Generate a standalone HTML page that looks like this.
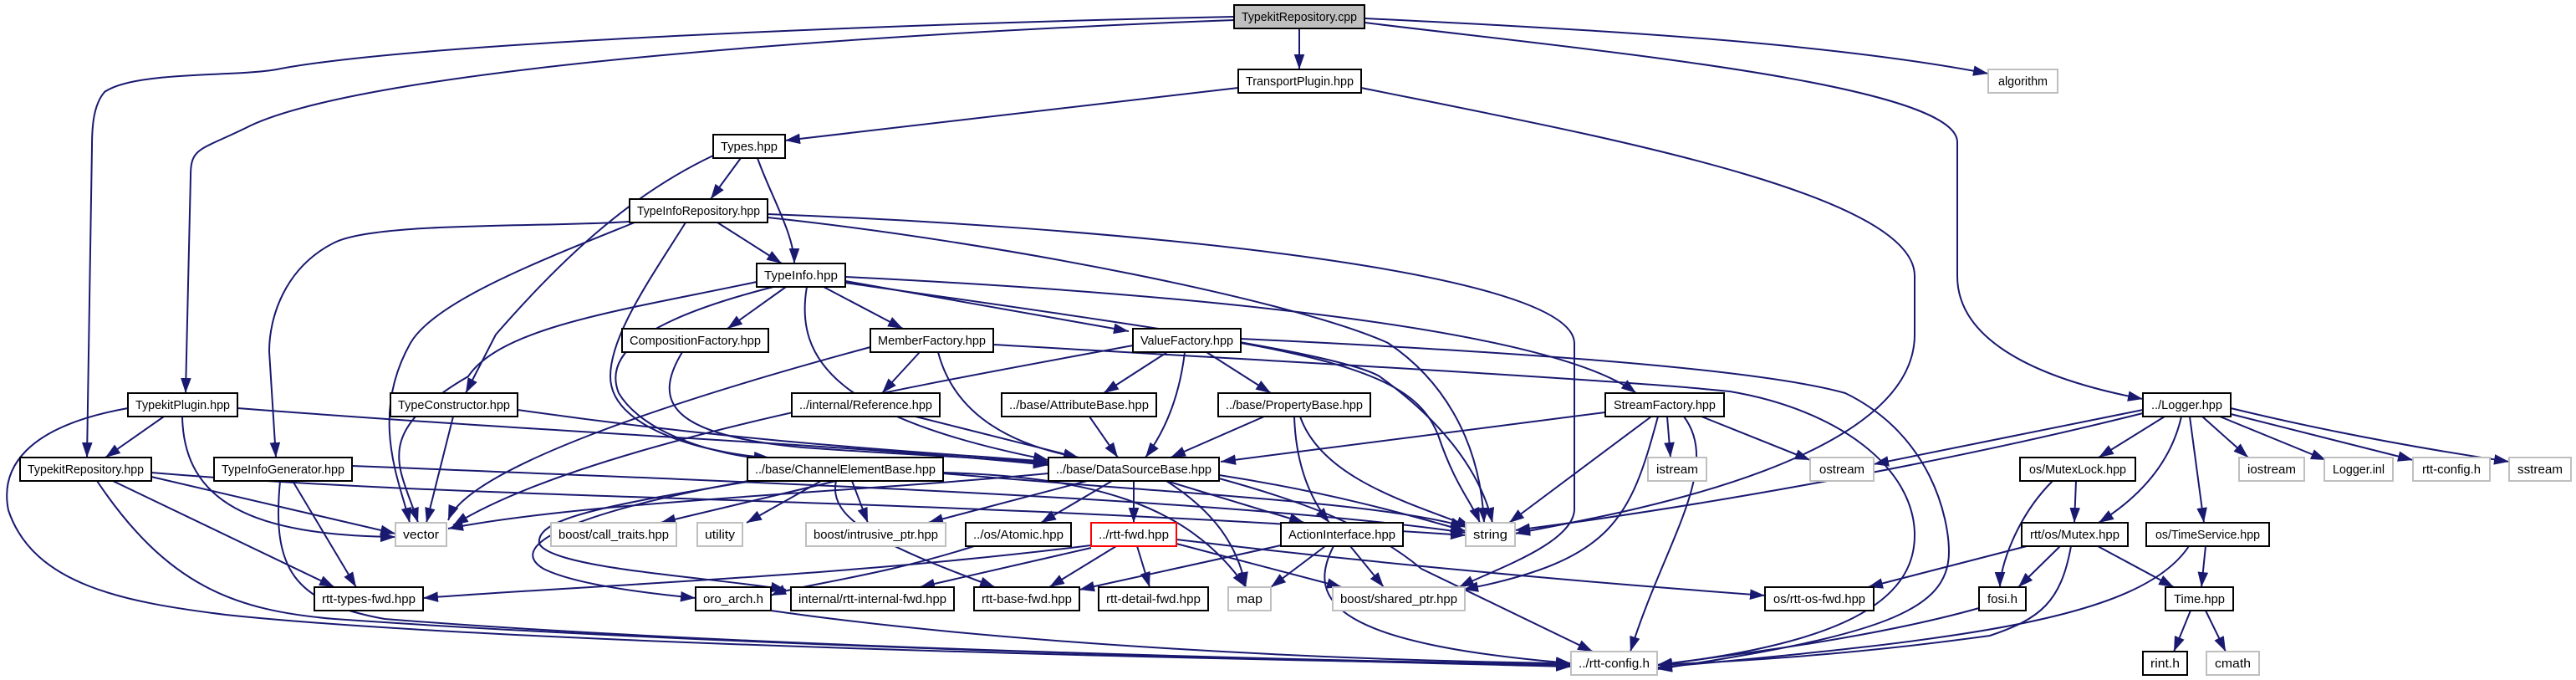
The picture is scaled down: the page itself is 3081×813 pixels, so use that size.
<!DOCTYPE html>
<html><head><meta charset="utf-8"><style>
html,body{margin:0;padding:0;background:#fff;}
svg{display:block;}
text{font-family:"Liberation Sans",sans-serif;font-size:15px;fill:#000;}
</style></head><body>
<svg width="3081" height="813" viewBox="0 0 3081 813" xmlns="http://www.w3.org/2000/svg">
<defs>
<marker id="a" viewBox="0 0 10 7" markerWidth="18" markerHeight="13" refX="10" refY="3.5" orient="auto" markerUnits="userSpaceOnUse"><path d="M0,0 L10,3.5 L0,7 z" fill="#191970"/></marker>
</defs>
<g fill="none" stroke="#191970" stroke-width="2" marker-end="url(#a)">
<path d="M1554,34 L1554,83"/>
<path d="M1632,22 C1900,35 2180,50 2378,88"/>
<path d="M1632,27 C1900,60 2341,100 2341,170 L2341,330 C2341,400 2420,450 2563,477"/>
<path d="M1476,20 C1100,28 500,50 331,83 C280,92 160,85 125,110 C112,125 110,150 110,175 L104,547"/>
<path d="M1476,24 C1050,40 450,80 300,150 C240,180 228,175 228,210 L222,470"/>
<path d="M1481,105 L939,168"/>
<path d="M1628,105 C1900,160 2290,230 2290,330 L2290,400 C2290,560 1900,620 1812,638"/>
<path d="M886,189 L850,238"/>
<path d="M906,189 C920,230 950,280 950,315"/>
<path d="M853,186 C760,230 680,300 593,400 L557,470"/>
<path d="M858,266 L935,315"/>
<path d="M753,265 C650,272 450,265 400,290 C340,320 322,380 322,420 L330,547"/>
<path d="M759,266 C650,310 520,360 491,410 C440,500 480,580 490,625"/>
<path d="M905,337 C750,370 600,390 560,450 C440,520 480,560 500,625"/>
<path d="M820,266 C780,330 730,400 730,450 C730,520 870,545 920,547"/>
<path d="M918,256 C1300,270 1880,320 1883,410 L1883,610 C1880,650 1790,680 1745,702"/>
<path d="M918,260 C1200,290 1550,360 1660,410 C1720,450 1770,520 1775,625"/>
<path d="M940,343 L870,393"/>
<path d="M985,343 L1080,393"/>
<path d="M1011,336 L1350,396"/>
<path d="M1011,331 C1400,350 1850,390 1957,470"/>
<path d="M1011,338 C1300,380 1600,420 1650,450 C1720,500 1770,560 1785,625"/>
<path d="M965,343 C950,430 1000,500 1254,550"/>
<path d="M925,343 C780,380 720,420 740,470 C770,520 860,545 920,549"/>
<path d="M816,421 C780,480 800,520 960,535 C1100,545 1200,548 1254,554"/>
<path d="M1100,421 L1055,470"/>
<path d="M1122,421 C1140,490 1200,530 1290,547"/>
<path d="M1041,415 C800,480 560,560 536,622"/>
<path d="M1188,412 C1500,430 1950,455 2069,468 C2200,490 2290,560 2290,640 C2290,720 2200,770 1982,795"/>
<path d="M1396,421 L1320,470"/>
<path d="M1417,421 C1410,480 1390,520 1370,547"/>
<path d="M1443,421 L1520,470"/>
<path d="M1355,413 C1100,460 700,530 542,628"/>
<path d="M1484,410 C1650,440 1700,470 1720,520 C1740,580 1760,600 1770,625"/>
<path d="M1484,405 C1800,420 2100,440 2207,470 C2310,520 2331,620 2331,660 C2331,730 2250,760 1982,800"/>
<path d="M196,498 L126,547"/>
<path d="M218,498 C220,600 300,640 473,642"/>
<path d="M284,488 C700,520 1000,530 1254,556"/>
<path d="M153,488 C30,510 0,560 10,610 C40,700 150,720 270,735 C600,770 1500,790 1879,795"/>
<path d="M542,498 L510,625"/>
<path d="M619,490 C900,530 1100,540 1254,552"/>
<path d="M1095,498 L1290,547"/>
<path d="M1303,498 L1337,547"/>
<path d="M1512,498 L1400,547"/>
<path d="M1548,498 C1550,560 1570,600 1590,625"/>
<path d="M1555,498 C1580,570 1680,600 1760,630"/>
<path d="M1920,493 L1460,552"/>
<path d="M1994,498 L1998,547"/>
<path d="M2035,498 L2165,550"/>
<path d="M1975,498 L1805,625"/>
<path d="M1983,498 C1950,620 1930,670 1750,705"/>
<path d="M2014,498 C2060,560 1990,650 1950,779"/>
<path d="M2563,490 L2241,555"/>
<path d="M2563,494 C2300,560 2000,610 1812,634"/>
<path d="M2589,498 L2510,547"/>
<path d="M2609,498 C2595,560 2550,600 2510,625"/>
<path d="M2619,498 L2636,625"/>
<path d="M2634,498 L2689,547"/>
<path d="M2655,498 L2782,550"/>
<path d="M2668,495 L2886,550"/>
<path d="M2668,488 C2800,520 2920,540 3001,552"/>
<path d="M181,570 L473,638"/>
<path d="M181,565 C600,600 1000,590 1753,640"/>
<path d="M135,575 L400,702"/>
<path d="M116,575 C200,700 280,730 400,740 C900,775 1600,790 1879,797"/>
<path d="M421,557 C1000,580 1500,600 1753,637"/>
<path d="M350,575 L426,702"/>
<path d="M335,575 C325,680 350,720 460,740 C900,775 1600,790 1879,795"/>
<path d="M1000,575 L790,625"/>
<path d="M982,575 L893,625"/>
<path d="M1019,575 L1038,625"/>
<path d="M895,575 C700,610 600,650 650,680 C690,700 780,710 832,715"/>
<path d="M900,575 C720,605 640,620 645,650 C660,680 850,690 940,705"/>
<path d="M1000,575 C990,620 1050,650 1190,702"/>
<path d="M1128,565 C1300,570 1420,600 1490,702"/>
<path d="M1128,566 C1400,590 1650,600 1753,630"/>
<path d="M1300,575 L1110,625"/>
<path d="M1330,575 L1245,625"/>
<path d="M1356,575 L1356,625"/>
<path d="M1395,575 L1560,625"/>
<path d="M1458,568 C1600,590 1700,620 1753,635"/>
<path d="M1395,575 C1450,610 1480,650 1490,702"/>
<path d="M1458,572 C1560,600 1640,630 1700,680 L1905,779"/>
<path d="M1254,566 C1000,590 700,600 536,632"/>
<path d="M1165,653 C1050,690 950,700 922,712"/>
<path d="M1305,652 C1000,690 700,700 506,715"/>
<path d="M1305,655 L1100,702"/>
<path d="M1335,653 L1255,702"/>
<path d="M1360,653 L1375,702"/>
<path d="M1407,650 L1605,702"/>
<path d="M1407,645 C1700,680 1950,700 2111,712"/>
<path d="M1532,652 L1291,705"/>
<path d="M1585,653 L1520,702"/>
<path d="M1615,653 L1655,702"/>
<path d="M1595,653 C1560,720 1600,770 1879,793"/>
<path d="M922,730 C1200,770 1600,790 1879,793"/>
<path d="M2483,575 L2481,625"/>
<path d="M2455,575 C2410,620 2392,680 2392,702"/>
<path d="M2424,653 L2234,702"/>
<path d="M2464,653 L2414,702"/>
<path d="M2509,653 L2600,702"/>
<path d="M2477,653 C2465,720 2440,740 2380,760 C2200,785 2050,792 1982,795"/>
<path d="M2638,653 L2633,702"/>
<path d="M2618,653 C2560,740 2350,765 1982,798"/>
<path d="M2620,730 L2600,779"/>
<path d="M2638,730 L2662,779"/>
<path d="M2367,727 C2250,760 2100,780 1982,795"/>
</g>
<g stroke-width="2">
<rect x="1476" y="6" width="156" height="28" fill="#bfbfbf" stroke="#000"/><text x="1554" y="25" text-anchor="middle" textLength="138" lengthAdjust="spacingAndGlyphs">TypekitRepository.cpp</text>
<rect x="1481" y="83" width="147" height="28" fill="#fff" stroke="#000"/><text x="1554.5" y="102" text-anchor="middle" textLength="129" lengthAdjust="spacingAndGlyphs">TransportPlugin.hpp</text>
<rect x="2378" y="83" width="83" height="28" fill="#fff" stroke="#bfbfbf"/><text x="2419.5" y="102" text-anchor="middle" textLength="59" lengthAdjust="spacingAndGlyphs">algorithm</text>
<rect x="853" y="161" width="86" height="28" fill="#fff" stroke="#000"/><text x="896" y="180" text-anchor="middle" textLength="68" lengthAdjust="spacingAndGlyphs">Types.hpp</text>
<rect x="753" y="238" width="165" height="28" fill="#fff" stroke="#000"/><text x="835.5" y="257" text-anchor="middle" textLength="147" lengthAdjust="spacingAndGlyphs">TypeInfoRepository.hpp</text>
<rect x="905" y="315" width="106" height="28" fill="#fff" stroke="#000"/><text x="958" y="334" text-anchor="middle" textLength="88" lengthAdjust="spacingAndGlyphs">TypeInfo.hpp</text>
<rect x="744" y="393" width="175" height="28" fill="#fff" stroke="#000"/><text x="831.5" y="412" text-anchor="middle" textLength="157" lengthAdjust="spacingAndGlyphs">CompositionFactory.hpp</text>
<rect x="1041" y="393" width="147" height="28" fill="#fff" stroke="#000"/><text x="1114.5" y="412" text-anchor="middle" textLength="129" lengthAdjust="spacingAndGlyphs">MemberFactory.hpp</text>
<rect x="1355" y="393" width="129" height="28" fill="#fff" stroke="#000"/><text x="1419.5" y="412" text-anchor="middle" textLength="111" lengthAdjust="spacingAndGlyphs">ValueFactory.hpp</text>
<rect x="153" y="470" width="131" height="28" fill="#fff" stroke="#000"/><text x="218.5" y="489" text-anchor="middle" textLength="113" lengthAdjust="spacingAndGlyphs">TypekitPlugin.hpp</text>
<rect x="467" y="470" width="152" height="28" fill="#fff" stroke="#000"/><text x="543" y="489" text-anchor="middle" textLength="134" lengthAdjust="spacingAndGlyphs">TypeConstructor.hpp</text>
<rect x="947" y="470" width="177" height="28" fill="#fff" stroke="#000"/><text x="1035.5" y="489" text-anchor="middle" textLength="159" lengthAdjust="spacingAndGlyphs">../internal/Reference.hpp</text>
<rect x="1198" y="470" width="185" height="28" fill="#fff" stroke="#000"/><text x="1290.5" y="489" text-anchor="middle" textLength="167" lengthAdjust="spacingAndGlyphs">../base/AttributeBase.hpp</text>
<rect x="1457" y="470" width="182" height="28" fill="#fff" stroke="#000"/><text x="1548" y="489" text-anchor="middle" textLength="164" lengthAdjust="spacingAndGlyphs">../base/PropertyBase.hpp</text>
<rect x="1920" y="470" width="142" height="28" fill="#fff" stroke="#000"/><text x="1991" y="489" text-anchor="middle" textLength="122" lengthAdjust="spacingAndGlyphs">StreamFactory.hpp</text>
<rect x="2563" y="470" width="105" height="28" fill="#fff" stroke="#000"/><text x="2615.5" y="489" text-anchor="middle" textLength="85" lengthAdjust="spacingAndGlyphs">../Logger.hpp</text>
<rect x="24" y="547" width="157" height="28" fill="#fff" stroke="#000"/><text x="102.5" y="566" text-anchor="middle" textLength="139" lengthAdjust="spacingAndGlyphs">TypekitRepository.hpp</text>
<rect x="256" y="547" width="165" height="28" fill="#fff" stroke="#000"/><text x="338.5" y="566" text-anchor="middle" textLength="147" lengthAdjust="spacingAndGlyphs">TypeInfoGenerator.hpp</text>
<rect x="894" y="547" width="234" height="28" fill="#fff" stroke="#000"/><text x="1011" y="566" text-anchor="middle" textLength="216" lengthAdjust="spacingAndGlyphs">../base/ChannelElementBase.hpp</text>
<rect x="1254" y="547" width="204" height="28" fill="#fff" stroke="#000"/><text x="1356" y="566" text-anchor="middle" textLength="186" lengthAdjust="spacingAndGlyphs">../base/DataSourceBase.hpp</text>
<rect x="1971" y="547" width="70" height="28" fill="#fff" stroke="#bfbfbf"/><text x="2006" y="566" text-anchor="middle" textLength="50" lengthAdjust="spacingAndGlyphs">istream</text>
<rect x="2165" y="547" width="76" height="28" fill="#fff" stroke="#bfbfbf"/><text x="2203" y="566" text-anchor="middle" textLength="54" lengthAdjust="spacingAndGlyphs">ostream</text>
<rect x="2416" y="547" width="138" height="28" fill="#fff" stroke="#000"/><text x="2485" y="566" text-anchor="middle" textLength="116" lengthAdjust="spacingAndGlyphs">os/MutexLock.hpp</text>
<rect x="2678" y="547" width="78" height="28" fill="#fff" stroke="#bfbfbf"/><text x="2717" y="566" text-anchor="middle" textLength="58" lengthAdjust="spacingAndGlyphs">iostream</text>
<rect x="2780" y="547" width="82" height="28" fill="#fff" stroke="#bfbfbf"/><text x="2821" y="566" text-anchor="middle" textLength="62" lengthAdjust="spacingAndGlyphs">Logger.inl</text>
<rect x="2886" y="547" width="92" height="28" fill="#fff" stroke="#bfbfbf"/><text x="2932" y="566" text-anchor="middle" textLength="70" lengthAdjust="spacingAndGlyphs">rtt-config.h</text>
<rect x="3001" y="547" width="74" height="28" fill="#fff" stroke="#bfbfbf"/><text x="3038" y="566" text-anchor="middle" textLength="54" lengthAdjust="spacingAndGlyphs">sstream</text>
<rect x="473" y="625" width="61" height="28" fill="#fff" stroke="#bfbfbf"/><text x="503.5" y="644" text-anchor="middle" textLength="43" lengthAdjust="spacingAndGlyphs">vector</text>
<rect x="659" y="625" width="150" height="28" fill="#fff" stroke="#bfbfbf"/><text x="734" y="644" text-anchor="middle" textLength="132" lengthAdjust="spacingAndGlyphs">boost/call_traits.hpp</text>
<rect x="834" y="625" width="54" height="28" fill="#fff" stroke="#bfbfbf"/><text x="861" y="644" text-anchor="middle" textLength="36" lengthAdjust="spacingAndGlyphs">utility</text>
<rect x="964" y="625" width="167" height="28" fill="#fff" stroke="#bfbfbf"/><text x="1047.5" y="644" text-anchor="middle" textLength="149" lengthAdjust="spacingAndGlyphs">boost/intrusive_ptr.hpp</text>
<rect x="1155" y="625" width="126" height="28" fill="#fff" stroke="#000"/><text x="1218" y="644" text-anchor="middle" textLength="108" lengthAdjust="spacingAndGlyphs">../os/Atomic.hpp</text>
<rect x="1305" y="625" width="102" height="28" fill="#fff" stroke="#ff0000"/><text x="1356" y="644" text-anchor="middle" textLength="84" lengthAdjust="spacingAndGlyphs">../rtt-fwd.hpp</text>
<rect x="1532" y="625" width="146" height="28" fill="#fff" stroke="#000"/><text x="1605" y="644" text-anchor="middle" textLength="128" lengthAdjust="spacingAndGlyphs">ActionInterface.hpp</text>
<rect x="1753" y="625" width="59" height="28" fill="#fff" stroke="#bfbfbf"/><text x="1782.5" y="644" text-anchor="middle" textLength="41" lengthAdjust="spacingAndGlyphs">string</text>
<rect x="2418" y="625" width="127" height="28" fill="#fff" stroke="#000"/><text x="2481.5" y="644" text-anchor="middle" textLength="107" lengthAdjust="spacingAndGlyphs">rtt/os/Mutex.hpp</text>
<rect x="2567" y="625" width="147" height="28" fill="#fff" stroke="#000"/><text x="2640.5" y="644" text-anchor="middle" textLength="125" lengthAdjust="spacingAndGlyphs">os/TimeService.hpp</text>
<rect x="376" y="702" width="130" height="28" fill="#fff" stroke="#000"/><text x="441" y="721" text-anchor="middle" textLength="112" lengthAdjust="spacingAndGlyphs">rtt-types-fwd.hpp</text>
<rect x="832" y="702" width="90" height="28" fill="#fff" stroke="#000"/><text x="877" y="721" text-anchor="middle" textLength="72" lengthAdjust="spacingAndGlyphs">oro_arch.h</text>
<rect x="946" y="702" width="195" height="28" fill="#fff" stroke="#000"/><text x="1043.5" y="721" text-anchor="middle" textLength="177" lengthAdjust="spacingAndGlyphs">internal/rtt-internal-fwd.hpp</text>
<rect x="1165" y="702" width="126" height="28" fill="#fff" stroke="#000"/><text x="1228" y="721" text-anchor="middle" textLength="108" lengthAdjust="spacingAndGlyphs">rtt-base-fwd.hpp</text>
<rect x="1314" y="702" width="131" height="28" fill="#fff" stroke="#000"/><text x="1379.5" y="721" text-anchor="middle" textLength="113" lengthAdjust="spacingAndGlyphs">rtt-detail-fwd.hpp</text>
<rect x="1469" y="702" width="51" height="28" fill="#fff" stroke="#bfbfbf"/><text x="1494.5" y="721" text-anchor="middle" textLength="31" lengthAdjust="spacingAndGlyphs">map</text>
<rect x="1594" y="702" width="158" height="28" fill="#fff" stroke="#bfbfbf"/><text x="1673" y="721" text-anchor="middle" textLength="140" lengthAdjust="spacingAndGlyphs">boost/shared_ptr.hpp</text>
<rect x="2111" y="702" width="130" height="28" fill="#fff" stroke="#000"/><text x="2176" y="721" text-anchor="middle" textLength="110" lengthAdjust="spacingAndGlyphs">os/rtt-os-fwd.hpp</text>
<rect x="2367" y="702" width="56" height="28" fill="#fff" stroke="#000"/><text x="2395" y="721" text-anchor="middle" textLength="36" lengthAdjust="spacingAndGlyphs">fosi.h</text>
<rect x="2590" y="702" width="81" height="28" fill="#fff" stroke="#000"/><text x="2630.5" y="721" text-anchor="middle" textLength="61" lengthAdjust="spacingAndGlyphs">Time.hpp</text>
<rect x="1879" y="779" width="103" height="28" fill="#fff" stroke="#bfbfbf"/><text x="1930.5" y="798" text-anchor="middle" textLength="85" lengthAdjust="spacingAndGlyphs">../rtt-config.h</text>
<rect x="2563" y="779" width="53" height="28" fill="#fff" stroke="#000"/><text x="2589.5" y="798" text-anchor="middle" textLength="35" lengthAdjust="spacingAndGlyphs">rint.h</text>
<rect x="2639" y="779" width="63" height="28" fill="#fff" stroke="#bfbfbf"/><text x="2670.5" y="798" text-anchor="middle" textLength="43" lengthAdjust="spacingAndGlyphs">cmath</text>
</g>
</svg>
</body></html>
